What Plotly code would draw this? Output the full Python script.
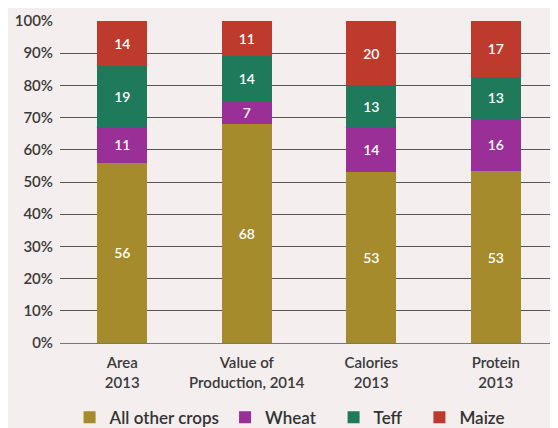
import plotly.graph_objects as go

categories = ["Area<br>2013", "Value of<br>Production, 2014", "Calories<br>2013", "Protein<br>2013"]
other = [56, 68, 53, 53.4]
wheat = [11, 7, 14, 16.2]
teff = [19, 14, 13, 13.1]
maize = [14, 11, 20, 17.3]

series = [
    ("All other crops", other, "#A58B2C"),
    ("Wheat&nbsp;&nbsp;&nbsp;", wheat, "#9A2F98"),
    ("Teff&nbsp;&nbsp;&nbsp;", teff, "#1F7A5C"),
    ("Maize", maize, "#BE3A2C"),
]

fig = go.Figure()
for name, vals, color in series:
    fig.add_trace(go.Bar(
        x=categories, y=vals, name=name,
        marker=dict(color=color, line=dict(width=0)),
        texttemplate="%{y:.0f}",
        textposition="inside", insidetextanchor="middle",
        textangle=0, constraintext="none",
        textfont=dict(color="white", size=14, family="Lato"),
    ))

# page has an 8px body margin, so the figure is shifted; bottom gets clipped like the original
fig.update_layout(
    barmode="stack",
    bargap=0.6,
    width=550, height=428,
    margin=dict(l=52, r=0, t=13, b=93),
    paper_bgcolor="#F4EEEE",
    plot_bgcolor="#F4EEEE",
    font=dict(family="Lato", size=15, color="#3a3a3a", weight=600),
    showlegend=True,
    legend=dict(orientation="h", x=0.461, xanchor="center", y=-0.288, yanchor="bottom",
                font=dict(size=17, color="#333", weight=600), traceorder="normal",
                itemwidth=30, bgcolor="rgba(0,0,0,0)"),
    xaxis=dict(showgrid=False, showline=False, ticks="", ticklabelstandoff=9,
               tickfont=dict(size=15, color="#3a3a3a", weight=600)),
    yaxis=dict(range=[0, 100], dtick=10, ticksuffix="%", showgrid=True,
               gridcolor="#555", gridwidth=1, zeroline=True, zerolinecolor="#777",
               zerolinewidth=1, ticks="", ticklabelstandoff=6,
               tickfont=dict(size=15, color="#3a3a3a", weight=600)),
)

fig.write_html("out.html")
